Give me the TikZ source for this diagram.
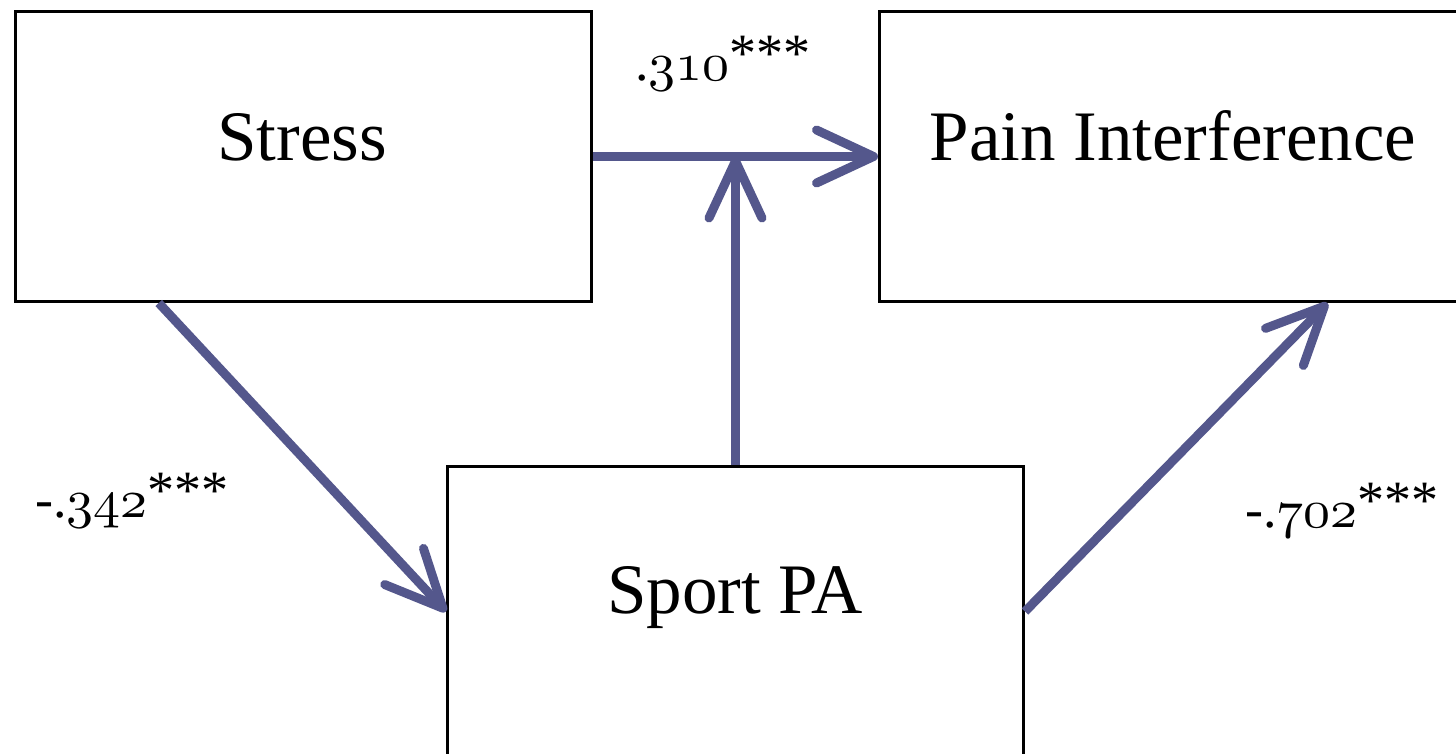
\documentclass[tikz,border=0pt]{standalone}
\usepackage{fontspec}
\setmainfont{Liberation Serif}
\usetikzlibrary{arrows.meta,calc}
\definecolor{arrowc}{RGB}{84,87,140}
\DeclareFontFamily{OML}{osfdig}{\skewchar\font=127}
\DeclareFontShape{OML}{osfdig}{m}{it}{<->cmmi10}{}
\newcommand\osn[1]{{\fontencoding{OML}\fontfamily{osfdig}\fontseries{m}\fontshape{it}\selectfont #1}}
\newcommand\stars{\raisebox{9pt}{***}}
\begin{document}
\begin{tikzpicture}[x=1pt,y=-1pt,
  box/.style={draw=black,line width=3pt,minimum width=576pt,minimum height=290pt,inner sep=0pt,anchor=north west},
  txt/.style={font=\fontsize{71}{80}\selectfont,inner sep=0pt,anchor=base},
  lab/.style={font=\fontsize{54}{64}\selectfont,inner sep=0pt,anchor=base west},
  conn/.style={draw=arrowc,line width=9pt,-{Straight Barb[length=57pt,width=53pt,round]}}]
\useasboundingbox (0,0) rectangle (1456,753);
\node[box] (stress) at (14,10) {};
\node[box,minimum width=590pt] (pain) at (878,10) {};
\node[box] (sport) at (446,465) {};
\node[txt] (stresst) at (302,160) {Stress};
\node[txt] (paint) at (1173,160) {Pain Interference};
\node[txt] (sportt) at (735,613) {Sport PA};
\draw[conn] (stress.east) -- (pain.west);
\draw[conn] (sport.north) -- (sport.north |- stress.east);
\draw[conn] ($(stress.south west)!0.25!(stress.south east)$) -- (sport.west);
\draw[conn] (sport.east) -- ($(pain.south west)!0.758!(pain.south east)$);
\node[lab] (l1) at (635,80) {.\osn{310}\stars};
\node[lab] (l2) at (35,517) {-.\osn{342}\stars};
\node[lab] (l3) at (1245,527) {-.\osn{702}\stars};
\end{tikzpicture}
\end{document}
